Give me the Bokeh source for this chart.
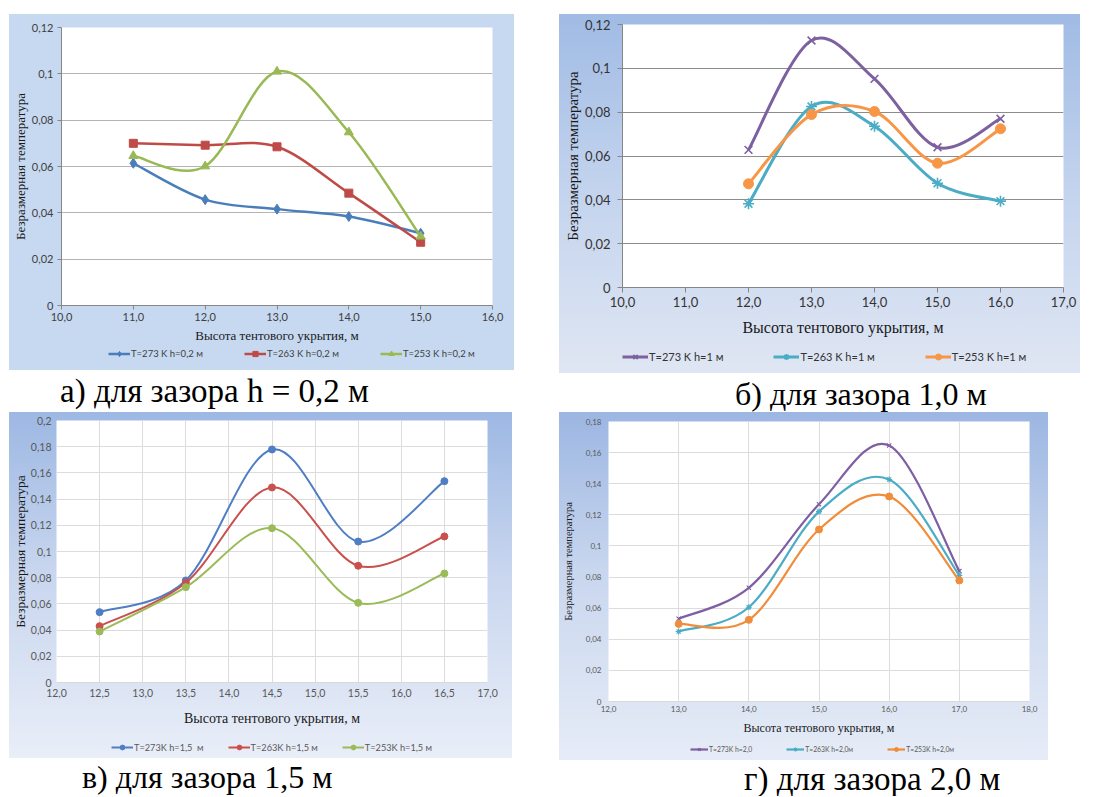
import numpy as np
from bokeh.plotting import figure
from bokeh.models import (Range1d, FixedTicker, CustomJSTickFormatter, Legend, LegendItem,
                          ColumnDataSource, Div, Spacer)
from bokeh.layouts import row, column
from bokeh.embed import file_html
from bokeh.resources import INLINE

# ---------------- DATA ----------------
# Panel а) h = 0,2 м
A_X = [11.0, 12.0, 13.0, 14.0, 15.0]
A_T273 = [0.0614, 0.0457, 0.0416, 0.0384, 0.0312]
A_T263 = [0.0700, 0.0692, 0.0685, 0.0485, 0.0273]
A_T253 = [0.0646, 0.0601, 0.1010, 0.0748, 0.0298]
A_NAMES = ["T=273 K h=0,2 м", "T=263 K h=0,2 м", "T=253 K h=0,2 м"]
A_XTICKS = [10.0, 11.0, 12.0, 13.0, 14.0, 15.0, 16.0]
A_XLABELS = ["10,0", "11,0", "12,0", "13,0", "14,0", "15,0", "16,0"]
A_YTICKS = [0.0, 0.02, 0.04, 0.06, 0.08, 0.1, 0.12]
A_YLABELS = ["0", "0,02", "0,04", "0,06", "0,08", "0,1", "0,12"]

# Panel б) h = 1,0 м
B_X = [12.0, 13.0, 14.0, 15.0, 16.0]
B_T273 = [0.0628, 0.1127, 0.0952, 0.0640, 0.0770]
B_T263 = [0.0382, 0.0826, 0.0736, 0.0476, 0.0394]
B_T253 = [0.0473, 0.0789, 0.0803, 0.0567, 0.0724]
B_NAMES = ["T=273 K h=1 м", "T=263 K h=1 м", "T=253 K h=1 м"]
B_XTICKS = [10.0, 11.0, 12.0, 13.0, 14.0, 15.0, 16.0, 17.0]
B_XLABELS = ["10,0", "11,0", "12,0", "13,0", "14,0", "15,0", "16,0", "17,0"]
B_YTICKS = [0.0, 0.02, 0.04, 0.06, 0.08, 0.1, 0.12]
B_YLABELS = ["0", "0,02", "0,04", "0,06", "0,08", "0,1", "0,12"]

# Panel в) h = 1,5 м
C_X = [12.5, 13.5, 14.5, 15.5, 16.5]
C_T273 = [0.0537, 0.0779, 0.1779, 0.1076, 0.1537]
C_T263 = [0.0430, 0.0761, 0.1489, 0.0891, 0.1115]
C_T253 = [0.0389, 0.0728, 0.1178, 0.0608, 0.0832]
C_NAMES = ["T=273K h=1,5  м", "T=263K h=1,5 м", "T=253K h=1,5 м"]
C_XTICKS = [12.0, 12.5, 13.0, 13.5, 14.0, 14.5, 15.0, 15.5, 16.0, 16.5, 17.0]
C_XLABELS = ["12,0", "12,5", "13,0", "13,5", "14,0", "14,5", "15,0", "15,5", "16,0", "16,5", "17,0"]
C_YTICKS = [0.0, 0.02, 0.04, 0.06, 0.08, 0.1, 0.12, 0.14, 0.16, 0.18, 0.2]
C_YLABELS = ["0", "0,02", "0,04", "0,06", "0,08", "0,1", "0,12", "0,14", "0,16", "0,18", "0,2"]

# Panel г) h = 2,0 м
D_X = [13.0, 14.0, 15.0, 16.0, 17.0]
D_T273 = [0.0532, 0.0731, 0.1268, 0.1646, 0.0838]
D_T263 = [0.0450, 0.0606, 0.1221, 0.1427, 0.0810]
D_T253 = [0.0499, 0.0525, 0.1106, 0.1318, 0.0778]
D_NAMES = ["T=273K h=2,0", "T=263K h=2,0м", "T=253K h=2,0м"]
D_XTICKS = [12.0, 13.0, 14.0, 15.0, 16.0, 17.0, 18.0]
D_XLABELS = ["12,0", "13,0", "14,0", "15,0", "16,0", "17,0", "18,0"]
D_YTICKS = [0.0, 0.02, 0.04, 0.06, 0.08, 0.1, 0.12, 0.14, 0.16, 0.18]
D_YLABELS = ["0", "0,02", "0,04", "0,06", "0,08", "0,1", "0,12", "0,14", "0,16", "0,18"]

Y_TITLE = "Безразмерная температура"
X_TITLE = "Высота тентового укрытия, м"
CAPTIONS = ["а) для зазора h = 0,2 м", "б) для зазора 1,0 м", "в) для зазора 1,5 м", "г) для зазора 2,0 м"]

FMT_CODE = """
let best = 0;
for (let i = 0; i < vals.length; i++) {
  if (Math.abs(vals[i] - tick) < Math.abs(vals[best] - tick)) best = i;
}
return labels[best];
"""


def smooth_source(xs, ys):
    """Bezier segments (Excel-like smoothed line) computed from the data points."""
    P = np.column_stack([xs, ys]).astype(float)
    n = len(P)
    seg = {k: [] for k in ["x0", "y0", "x1", "y1", "cx0", "cy0", "cx1", "cy1"]}
    for i in range(n - 1):
        p0 = P[max(i - 1, 0)]
        p1 = P[i]
        p2 = P[i + 1]
        p3 = P[min(i + 2, n - 1)]
        c0 = p1 + (p2 - p0) / 6.0
        c1 = p2 - (p3 - p1) / 6.0
        seg["x0"].append(p1[0]); seg["y0"].append(p1[1])
        seg["x1"].append(p2[0]); seg["y1"].append(p2[1])
        seg["cx0"].append(c0[0]); seg["cy0"].append(c0[1])
        seg["cx1"].append(c1[0]); seg["cy1"].append(c1[1])
    return ColumnDataSource(seg)


def draw_series(p, st, xs, ys, style):
    col, marker, msize, mlw = style
    r_line = p.bezier(x0="x0", y0="y0", x1="x1", y1="y1", cx0="cx0", cy0="cy0",
                      cx1="cx1", cy1="cy1", source=smooth_source(xs, ys),
                      line_color=col, line_width=st["lw"])
    r_pts = p.scatter(xs, ys, marker=marker, size=msize, fill_color=col,
                      line_color=col, line_width=mlw)
    return [r_line, r_pts]


def make_panel(st, xs, series, names, xt, xl, yt, yl):
    p = figure(width=st["w"], height=st["h"],
               x_range=Range1d(xt[0], xt[-1]), y_range=Range1d(yt[0], yt[-1]),
               output_backend="svg", toolbar_location=None,
               min_border_left=st["bl"], min_border_right=st["br"],
               min_border_top=st["bt"], min_border_bottom=st["bb"])
    p.border_fill_alpha = 0
    p.background_fill_color = "white"
    p.outline_line_color = None

    p.xaxis.ticker = FixedTicker(ticks=xt)
    p.yaxis.ticker = FixedTicker(ticks=yt)
    p.xaxis.formatter = CustomJSTickFormatter(args=dict(vals=xt, labels=xl), code=FMT_CODE)
    p.yaxis.formatter = CustomJSTickFormatter(args=dict(vals=yt, labels=yl), code=FMT_CODE)
    for ax in (p.xaxis[0], p.yaxis[0]):
        ax.major_label_text_font = "Lato"
        ax.major_label_text_font_size = st["tick_fs"]
        ax.major_label_text_color = st["tick_col"]
        ax.minor_tick_line_color = None
        ax.major_tick_in = 0
        ax.major_tick_out = st["tick_out"]
        ax.major_tick_line_color = st["axis_col"] if st["tick_out"] > 0 else None
        ax.axis_label_text_font = "Liberation Serif"
        ax.axis_label_text_font_style = "normal"
        ax.axis_label_text_color = "#1a1a1a"
    p.xaxis.axis_line_color = st["axis_col"]
    p.yaxis.axis_line_color = st["yaxis_col"]
    p.xaxis.major_label_standoff = st["x_lab_so"]
    p.yaxis.major_label_standoff = st["y_lab_so"]
    p.xaxis.axis_label = X_TITLE
    p.yaxis.axis_label = Y_TITLE
    p.xaxis.axis_label_text_font_size = st["xt_fs"]
    p.yaxis.axis_label_text_font_size = st["yt_fs"]
    p.xaxis.axis_label_standoff = st["x_title_so"]
    p.yaxis.axis_label_standoff = st["y_title_so"]

    p.ygrid.ticker = FixedTicker(ticks=yt)
    p.ygrid.grid_line_color = st["grid_col"]
    p.ygrid.grid_line_width = st["grid_w"]
    if st["vgrid"]:
        p.xgrid.ticker = FixedTicker(ticks=xt)
        p.xgrid.grid_line_color = st["grid_col"]
        p.xgrid.grid_line_width = st["grid_w"]
    else:
        p.xgrid.visible = False

    for ys, style in zip(series, st["series"]):
        draw_series(p, st, xs, ys, style)

    # legend strip: its own figure, whose renderers lie outside its (0..1) x range
    lf = figure(width=st["w"], height=st["lh"], x_range=Range1d(0, 1), y_range=Range1d(0, 1),
                x_axis_type=None, y_axis_type=None, output_backend="svg",
                toolbar_location=None, min_border=0)
    lf.outline_line_color = None
    lf.background_fill_alpha = 0
    lf.border_fill_alpha = 0
    items = []
    for ys, name, style in zip(series, names, st["series"]):
        items.append(LegendItem(label=name, renderers=draw_series(lf, st, xs, ys, style)))
    leg = Legend(items=items, orientation="horizontal", location=st["leg_loc"],
                 label_text_font="Lato", label_text_font_size=st["leg_fs"],
                 label_text_color=st["tick_col"], glyph_width=st["glyph_w"],
                 glyph_height=st["glyph_h"], label_height=st["glyph_h"],
                 label_standoff=1, spacing=st["leg_sp"], padding=0, margin=0,
                 border_line_color=None, background_fill_alpha=0)
    lf.add_layout(leg)
    return column(p, lf, styles={"background": st["bg"]})


ST_A = dict(w=505, h=332, lh=24, bl=49, br=22, bt=13, bb=41,
            bg="#c6d9f1", tick_fs="11px", tick_col="#404040", tick_out=4,
            axis_col="#868686", yaxis_col="#868686", x_lab_so=3, y_lab_so=4,
            xt_fs="13px", yt_fs="13px", x_title_so=4, y_title_so=1,
            grid_col="#b4b4b4", grid_w=1.2, vgrid=False, lw=2.5,
            series=[("#4a7ebb", "diamond", 10, 1), ("#be4b48", "square", 8, 1),
                    ("#98b954", "triangle", 9, 1)],
            leg_fs="9.5px", glyph_w=22, glyph_h=13, leg_sp=41, leg_loc=(47, 10))

ST_B = dict(w=521, h=328, lh=31, bl=63, br=17, bt=10, bb=55,
            bg="linear-gradient(180deg, #a0bbe4 0%, #c4d4ee 50%, #dfe6f3 100%)",
            tick_fs="13px", tick_col="#333333", tick_out=5,
            axis_col="#868686", yaxis_col="#868686", x_lab_so=4, y_lab_so=7,
            xt_fs="16px", yt_fs="15px", x_title_so=9, y_title_so=1,
            grid_col="#8c8c8c", grid_w=1.2, vgrid=False, lw=3,
            series=[("#7d60a0", "x", 11, 1.6), ("#4aacc5", "asterisk", 11, 1.6),
                    ("#f79646", "circle", 10, 1)],
            leg_fs="11px", glyph_w=26, glyph_h=15, leg_sp=50, leg_loc=(0, 9))

ST_C = dict(w=503, h=320, lh=26, bl=46, br=25, bt=8, bb=50,
            bg="linear-gradient(180deg, #9db8e3 0%, #c7d5ee 45%, #e9eef8 100%)",
            tick_fs="10.5px", tick_col="#595959", tick_out=0,
            axis_col="#d9d9d9", yaxis_col=None, x_lab_so=6, y_lab_so=5,
            xt_fs="14px", yt_fs="13.5px", x_title_so=11, y_title_so=0,
            grid_col="#dcdcdc", grid_w=1, vgrid=True, lw=2,
            series=[("#4f7ec5", "circle", 7, 1), ("#c9504d", "circle", 7, 1),
                    ("#9bbb59", "circle", 7, 1)],
            leg_fs="9.2px", glyph_w=22, glyph_h=12, leg_sp=24, leg_loc=(55, 5))

ST_D = dict(w=489, h=326, lh=22, bl=47, br=19, bt=9, bb=37,
            bg="linear-gradient(180deg, #9cb6e2 0%, #c8d6ee 45%, #e6ecf7 100%)",
            tick_fs="8px", tick_col="#595959", tick_out=0,
            axis_col="#d9d9d9", yaxis_col=None, x_lab_so=4, y_lab_so=7,
            xt_fs="12px", yt_fs="10.5px", x_title_so=6, y_title_so=9,
            grid_col="#dcdcdc", grid_w=1, vgrid=True, lw=2.2,
            series=[("#7f5fa3", "x", 6, 1.2), ("#4bacc6", "asterisk", 6, 1.2),
                    ("#f08c3a", "circle", 7, 1)],
            leg_fs="6.8px", glyph_w=18, glyph_h=10, leg_sp=34, leg_loc=(82, 6))

pa = make_panel(ST_A, A_X, [A_T273, A_T263, A_T253], A_NAMES, A_XTICKS, A_XLABELS, A_YTICKS, A_YLABELS)
pb = make_panel(ST_B, B_X, [B_T273, B_T263, B_T253], B_NAMES, B_XTICKS, B_XLABELS, B_YTICKS, B_YLABELS)
pc = make_panel(ST_C, C_X, [C_T273, C_T263, C_T253], C_NAMES, C_XTICKS, C_XLABELS, C_YTICKS, C_YLABELS)
pd = make_panel(ST_D, D_X, [D_T273, D_T263, D_T253], D_NAMES, D_XTICKS, D_XLABELS, D_YTICKS, D_YLABELS)


def caption(text, w, h, ml, mt, fs):
    html = ('<div style="font-family:\'Liberation Serif\',\'Times New Roman\',serif;'
            f'font-size:{fs}px;line-height:{fs}px;white-space:nowrap;'
            f'margin-left:{ml}px;margin-top:{mt}px;color:#000;">{text}</div>')
    return Div(text=html, width=w, height=h, margin=0, styles={"overflow": "hidden"})


def sp(w, h):
    return Spacer(width=w, height=h, margin=0)


layout = column(
    sp(1, 14),
    row(sp(9, 1), pa, sp(45, 1), pb),
    row(caption(CAPTIONS[0], 559, 39, 60, 2, 33), caption(CAPTIONS[1], 540, 39, 176, 5, 32)),
    row(sp(9, 1), pc, sp(47, 1), pd),
    row(caption(CAPTIONS[2], 559, 36, 82, 1, 32), caption(CAPTIONS[3], 540, 36, 185, 3, 33)),
)

open("out.html", "w").write(file_html(layout, INLINE, "Безразмерная температура"))
